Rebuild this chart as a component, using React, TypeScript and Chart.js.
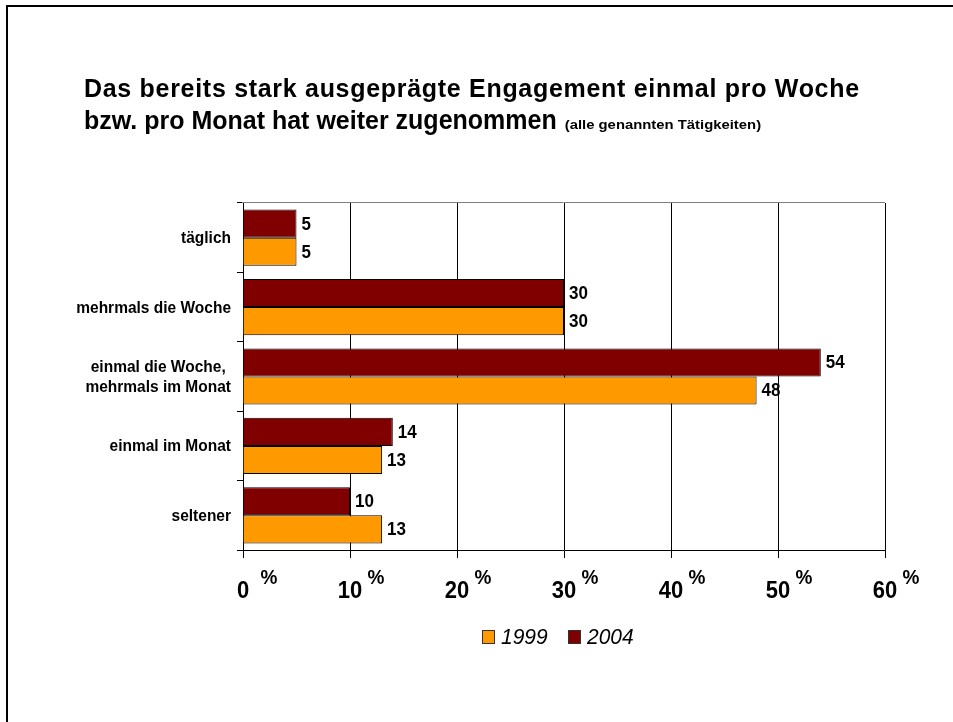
import React, { useEffect, useRef } from "react";
import { Chart, registerables } from "chart.js";

Chart.register(...registerables);

const categories: string[][] = [
  ["täglich"],
  ["mehrmals die Woche"],
  ["einmal die Woche,", "mehrmals im Monat"],
  ["einmal im Monat"],
  ["seltener"],
];
const values1999 = [5, 30, 48, 13, 13];
const values2004 = [5, 30, 54, 14, 10];
const xTicks = [0, 10, 20, 30, 40, 50, 60];
const seriesNames = ["1999", "2004"];
const titleLine1 = "Das bereits stark ausgeprägte Engagement einmal pro Woche";
const titleLine2a = "bzw. pro Monat hat weiter ";
const titleLine2b = "zugenommen";
const titleSub = "(alle genannten Tätigkeiten)";

const ORANGE = "#FF9900";
const MAROON = "#800000";
const FONT = "'Liberation Sans', Arial, sans-serif";

function txt(
  ctx: CanvasRenderingContext2D,
  s: string,
  x: number,
  y: number,
  sx = 1,
  sy = 1
) {
  ctx.save();
  ctx.translate(x, y);
  ctx.scale(sx, sy);
  ctx.fillText(s, 0, 0);
  ctx.restore();
}

const drawPlugin = {
  id: "customDraw",
  afterDraw(chart: any) {
    const ctx: CanvasRenderingContext2D = chart.ctx;
    const ca = chart.chartArea;
    const xs = chart.scales.x;
    const ys = chart.scales.y;
    ctx.save();

    // outer frame
    ctx.strokeStyle = "#000";
    ctx.lineWidth = 2;
    ctx.beginPath();
    ctx.moveTo(7, 800);
    ctx.lineTo(7, 6);
    ctx.lineTo(1000, 6);
    ctx.stroke();

    // top border of plot (gray)
    ctx.strokeStyle = "#808080";
    ctx.lineWidth = 1;
    ctx.beginPath();
    ctx.moveTo(ca.left - 1, ca.top - 0.5);
    ctx.lineTo(ca.right, ca.top - 0.5);
    ctx.stroke();

    // title
    ctx.fillStyle = "#000";
    ctx.textBaseline = "alphabetic";
    ctx.textAlign = "left";
    ctx.font = `bold 25px ${FONT}`;
    (ctx as any).letterSpacing = "0.7px";
    txt(ctx, titleLine1, 84, 97, 1, 1.03);
    (ctx as any).letterSpacing = "0px";
    txt(ctx, titleLine2a, 84, 129, 1, 1.03);
    const wa = ctx.measureText(titleLine2a).width;
    txt(ctx, titleLine2b, 84 + wa, 129, 1, 1.12);
    const wb = ctx.measureText(titleLine2b).width;
    ctx.font = `bold 11px ${FONT}`;
    txt(ctx, titleSub, 84 + wa + wb + 8, 129, 1.35, 1.1);

    // y category labels
    ctx.font = `bold 15.5px ${FONT}`;
    ctx.textBaseline = "middle";
    ctx.textAlign = "center";
    categories.forEach((lines, i) => {
      const cy = ys.getPixelForValue(i) + 1;
      const widths = lines.map((l) => ctx.measureText(l).width);
      const maxW = Math.max(...widths);
      const cx = 231 - maxW / 2;
      const lh = 20;
      lines.forEach((l, j) => {
        txt(ctx, l, cx, cy + (j - (lines.length - 1) / 2) * lh, 1, 1.05);
      });
    });

    // x tick labels
    ctx.textBaseline = "alphabetic";
    xTicks.forEach((v) => {
      const px = xs.getPixelForValue(v);
      ctx.textAlign = "center";
      ctx.font = `bold 22px ${FONT}`;
      txt(ctx, String(v), px, 598, 1, 1.12);
      ctx.font = `bold 19px ${FONT}`;
      txt(ctx, "%", px + 26, 584, 1, 1.1);
    });

    // value labels
    ctx.font = `bold 17px ${FONT}`;
    ctx.textAlign = "left";
    ctx.textBaseline = "middle";
    chart.data.datasets.forEach((ds: any, di: number) => {
      const meta = chart.getDatasetMeta(di);
      meta.data.forEach((el: any, i: number) => {
        txt(ctx, String(ds.data[i]), el.x + 5, el.y + 1, 1, 1.05);
      });
    });

    // legend
    const ly = 637;
    const items = [
      { label: seriesNames[0], color: ORANGE, x: 482 },
      { label: seriesNames[1], color: MAROON, x: 568 },
    ];
    ctx.font = `italic 21px ${FONT}`;
    ctx.textAlign = "left";
    ctx.textBaseline = "middle";
    items.forEach((it) => {
      ctx.fillStyle = it.color;
      ctx.fillRect(it.x, ly - 7, 13, 14);
      ctx.strokeStyle = "#333";
      ctx.lineWidth = 1;
      ctx.strokeRect(it.x + 0.5, ly - 6.5, 12, 13);
      ctx.fillStyle = "#000";
      txt(ctx, it.label, it.x + 19, ly + 1, 1, 1.05);
    });

    ctx.restore();
  },
};

export default function App() {
  const ref = useRef<HTMLCanvasElement | null>(null);
  useEffect(() => {
    document.body.style.margin = "0";
    const canvas = ref.current!;
    const chart = new Chart(canvas, {
      type: "bar",
      data: {
        labels: categories.map((c) => c.join(" ")),
        datasets: [
          {
            label: seriesNames[1],
            data: values2004,
            backgroundColor: MAROON,
            borderColor: "#000",
            borderWidth: 1,
            categoryPercentage: 0.81,
            barPercentage: 1,
          },
          {
            label: seriesNames[0],
            data: values1999,
            backgroundColor: ORANGE,
            borderColor: "#000",
            borderWidth: 1,
            categoryPercentage: 0.81,
            barPercentage: 1,
          },
        ],
      },
      options: {
        indexAxis: "y",
        responsive: false,
        animation: false,
        devicePixelRatio: 1,
        layout: { padding: { top: 203, right: 68, left: 0, bottom: 0 } },
        plugins: {
          legend: { display: false },
          title: { display: false },
          tooltip: { enabled: false },
        },
        scales: {
          x: {
            min: 0,
            max: 60,
            ticks: { stepSize: 10, display: false },
            grid: {
              color: "#000",
              lineWidth: 1,
              drawTicks: true,
              tickLength: 8,
            },
            border: { display: true, color: "#000" },
            afterFit: (s: any) => {
              s.height = 172;
            },
          },
          y: {
            ticks: { display: false },
            grid: {
              drawOnChartArea: false,
              drawTicks: true,
              tickLength: 6,
              color: "#000",
              offset: true,
            },
            border: { display: true, color: "#000" },
            afterFit: (s: any) => {
              s.width = 243;
            },
          },
        },
      } as any,
      plugins: [drawPlugin],
    });
    return () => chart.destroy();
  }, []);
  return (
    <div style={{ width: 953, height: 722, position: "relative", background: "#fff" }}>
      <canvas ref={ref} width={953} height={722} style={{ display: "block" }} />
    </div>
  );
}
